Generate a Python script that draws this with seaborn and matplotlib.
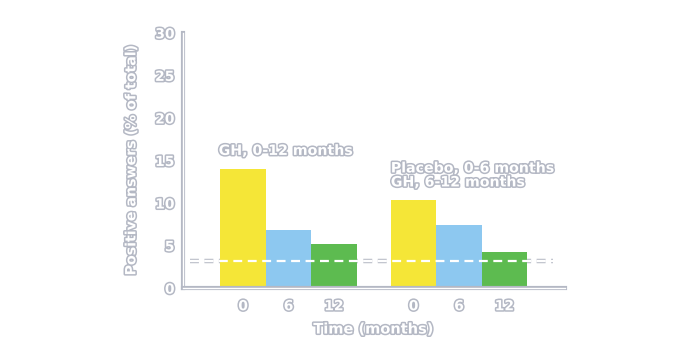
import numpy as np
import pandas as pd
import matplotlib
matplotlib.use("Agg")
import matplotlib.pyplot as plt
import matplotlib.patheffects as pe
import seaborn as sns

sns.set_theme(style="white")
plt.rcParams["font.family"] = ["DejaVu Sans"]

# data
groups = ["GH 0-12", "Placebo/GH"]
times = ["0", "6", "12"]
values_gh = [14.0, 6.8, 5.2]
values_placebo = [10.3, 7.4, 4.3]
baseline = 3.2
group_labels = ["GH, 0-12 months", "Placebo, 0-6 months\nGH, 6-12 months"]
yticks = [0, 5, 10, 15, 20, 25, 30]

df = pd.DataFrame({
    "group": np.repeat(groups, len(times)),
    "time": times * len(groups),
    "value": values_gh + values_placebo,
})

GRAY = "#b4b8c4"
outline = [pe.withStroke(linewidth=2.2, foreground=GRAY)]
txt = dict(color="white", fontweight="bold", path_effects=outline)

fig = plt.figure(figsize=(6.98, 3.57), dpi=100)
ax = fig.add_axes([0.262, 0.193, 0.547, 0.715])

palette = ["#f5e637", "#8dc8f0", "#5dbb50"]
sns.barplot(data=df, x="group", y="value", hue="time", palette=palette,
            width=0.8, gap=0, legend=False, ax=ax, zorder=2,
            edgecolor="none", saturation=1)

# baseline dashed line: outlined under the bars, plain white over them
ax.hlines(baseline, -0.58, 1.55, colors="white", linestyles=(0, (4, 2.5)),
          linewidth=1.6, zorder=1, path_effects=[pe.withStroke(linewidth=3.2, foreground=GRAY)])
ax.hlines(baseline, -0.58, 1.55, colors="white", linestyles=(0, (4, 2.5)),
          linewidth=1.6, zorder=3)

ax.set_xlim(-0.62, 1.62)
ax.set_ylim(0, 30)

# tick positions at bar centres
centres = []
for c in ax.patches:
    centres.append(c.get_x() + c.get_width() / 2)
centres = sorted(centres)
ax.set_xticks(centres)
ax.set_xticklabels(times * len(groups))
ax.tick_params(axis="x", length=0, pad=8)
ax.set_yticks(yticks)
ax.tick_params(axis="y", direction="in", length=6, width=1.2, color=GRAY, pad=6)
for lab in ax.get_xticklabels() + ax.get_yticklabels():
    lab.set_color("white")
    lab.set_fontweight("bold")
    lab.set_fontsize(10)
    lab.set_path_effects(outline)

for side in ["top", "right"]:
    ax.spines[side].set_visible(False)
for side in ["left", "bottom"]:
    sp = ax.spines[side]
    sp.set_color("white")
    sp.set_linewidth(1.0)
    sp.set_path_effects([pe.Stroke(linewidth=3.0, foreground=GRAY), pe.Normal()])

ax.text(-0.41, 15.3, group_labels[0], fontsize=10.2, ha="left", va="bottom", **txt)
ax.text(0.6, 11.6, group_labels[1], fontsize=10.2, ha="left", va="bottom",
        linespacing=1.0, **txt)

ax.set_xlabel("Time (months)", fontsize=10.5, labelpad=6, **txt)
ax.set_ylabel("Positive answers (% of total)", fontsize=10.2, labelpad=12, **txt)

fig.savefig("out.png", dpi=100, facecolor="white")
